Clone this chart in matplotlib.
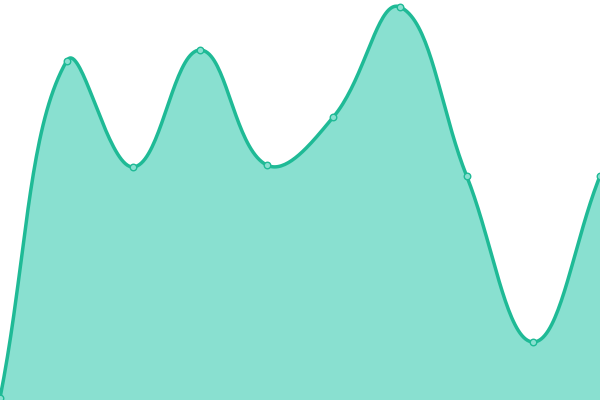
import numpy as np
import matplotlib

matplotlib.use("Agg")
import matplotlib.pyplot as plt

# values (bottom = 0, top = 400)
x_vals = [0, 1, 2, 3, 4, 5, 6, 7, 8, 9]
y_vals = [2, 339, 233, 350, 235, 283, 393, 224, 58, 224]

LINE = "#1fba96"
FILL = "#89e0d0"

W, H = 600, 400
px = np.array(x_vals) * W / (len(x_vals) - 1)
py = np.array(y_vals, dtype=float)


def spline(xs, ys, t=0.4, n=40):
    # cardinal bezier like chart libraries draw it
    pts = np.column_stack([xs, ys])
    cps = []
    for i in range(len(pts)):
        prev = pts[max(i - 1, 0)]
        cur = pts[i]
        nxt = pts[min(i + 1, len(pts) - 1)]
        d01 = np.hypot(*(cur - prev))
        d12 = np.hypot(*(nxt - cur))
        s = d01 + d12
        fa = t * d01 / s if s else 0
        fb = t * d12 / s if s else 0
        cps.append((cur - fa * (nxt - prev), cur + fb * (nxt - prev)))
    out = []
    u = np.linspace(0, 1, n)[:, None]
    for i in range(len(pts) - 1):
        p0, p3 = pts[i], pts[i + 1]
        p1, p2 = cps[i][1], cps[i + 1][0]
        seg = ((1 - u) ** 3) * p0 + 3 * ((1 - u) ** 2) * u * p1 + 3 * (1 - u) * u ** 2 * p2 + u ** 3 * p3
        out.append(seg if i == 0 else seg[1:])
    c = np.vstack(out)
    return c[:, 0], c[:, 1]


cx, cy = spline(px, py)

fig = plt.figure(figsize=(6, 4), dpi=100)
ax = fig.add_axes([0, 0, 1, 1])
ax.fill_between(cx, 0, cy, color=FILL, lw=0, zorder=1)
ax.plot(cx, cy, color=LINE, lw=2.5, zorder=2, solid_capstyle="round")
ax.scatter(px, py, s=22, facecolor=FILL, edgecolor=LINE, linewidths=1, zorder=3, clip_on=False)
ax.set_xlim(0, W)
ax.set_ylim(0, H)
ax.axis("off")
fig.savefig("out.png", facecolor="white")
